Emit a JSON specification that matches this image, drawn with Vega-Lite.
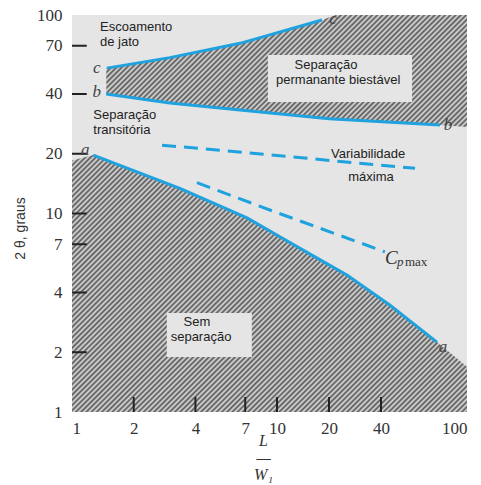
{
  "$schema": "https://vega.github.io/schema/vega-lite/v6.json",
  "width": 395,
  "height": 397,
  "autosize": {"type": "none"},
  "padding": {"left": 72, "top": 15, "right": 14, "bottom": 73},
  "background": "white",
  "config": {"view": {"fill": "#e5e5e5", "stroke": null}},
  "datasets": {
    "bottom": [
      {"x": 1, "y": 18.5}, {"x": 1.27, "y": 19.7}, {"x": 3.36, "y": 13.4}, {"x": 7.14, "y": 9.5},
      {"x": 10.4, "y": 7.63}, {"x": 16.2, "y": 6.12}, {"x": 25.4, "y": 4.9}, {"x": 43.9, "y": 3.46},
      {"x": 72.6, "y": 2.25}, {"x": 100, "y": 1.69}
    ],
    "top": [
      {"x": 1.47, "y": 40, "y2": 54}, {"x": 3, "y": 36, "y2": 61}, {"x": 6.6, "y": 33.2, "y2": 72},
      {"x": 18.2, "y": 30.3, "y2": 94.4}, {"x": 21.9, "y": 29.9, "y2": 100}, {"x": 75, "y": 27.9, "y2": 100},
      {"x": 100, "y": 27.3, "y2": 100}
    ],
    "boxes": [
      {"x": 9.03, "x2": 55.7, "y": 36.4, "y2": 62.9},
      {"x": 2.9, "x2": 7.54, "y": 1.89, "y2": 3.15}
    ],
    "curves": [
      {"curve": "a", "x": 1.27, "y": 19.7}, {"curve": "a", "x": 3.36, "y": 13.4}, {"curve": "a", "x": 7.14, "y": 9.5},
      {"curve": "a", "x": 10.4, "y": 7.63}, {"curve": "a", "x": 16.2, "y": 6.12}, {"curve": "a", "x": 25.4, "y": 4.9},
      {"curve": "a", "x": 43.9, "y": 3.46}, {"curve": "a", "x": 72.6, "y": 2.25},
      {"curve": "b", "x": 1.47, "y": 40}, {"curve": "b", "x": 3, "y": 36}, {"curve": "b", "x": 6.6, "y": 33.2},
      {"curve": "b", "x": 20, "y": 30}, {"curve": "b", "x": 75, "y": 27.9},
      {"curve": "c", "x": 1.48, "y": 54}, {"curve": "c", "x": 3, "y": 61}, {"curve": "c", "x": 6.6, "y": 72},
      {"curve": "c", "x": 18.2, "y": 94.4}
    ],
    "dashed": [
      {"curve": "var", "x": 2.75, "y": 22.1}, {"curve": "var", "x": 10, "y": 19.6},
      {"curve": "var", "x": 40, "y": 17.5}, {"curve": "var", "x": 57.5, "y": 16.9},
      {"curve": "cp", "x": 4.07, "y": 14.3}, {"curve": "cp", "x": 10, "y": 10.1},
      {"curve": "cp", "x": 40, "y": 6.52}, {"curve": "cp", "x": 41.7, "y": 6.4}
    ],
    "xticks": [{"x": 2}, {"x": 4}, {"x": 7}, {"x": 10}, {"x": 20}, {"x": 40}],
    "yticks": [{"y": 2}, {"y": 4}, {"y": 7}, {"y": 10}, {"y": 20}, {"y": 40}, {"y": 70}],
    "leftLabels": [
      {"x": 1.37, "y": 87, "t": "Escoamento"}, {"x": 1.37, "y": 73.1, "t": "de jato"},
      {"x": 1.27, "y": 31.3, "t": "Separação"}, {"x": 1.27, "y": 26.3, "t": "transitória"}
    ],
    "centerLabels": [
      {"x": 19.2, "y": 56.1, "t": "Separação"}, {"x": 22.6, "y": 47, "t": "permanante biestável"},
      {"x": 33.7, "y": 19.9, "t": "Variabilidade"}, {"x": 35, "y": 15.3, "t": "máxima"},
      {"x": 4.07, "y": 2.84, "t": "Sem"}, {"x": 4.26, "y": 2.39, "t": "separação"}
    ],
    "letters": [
      {"x": 1.32, "y": 54, "t": "c"}, {"x": 1.32, "y": 41, "t": "b"}, {"x": 1.16, "y": 20.9, "t": "a"},
      {"x": 21.1, "y": 96, "t": "c"}, {"x": 81.7, "y": 27.9, "t": "b"}, {"x": 77.4, "y": 2.13, "t": "a"}
    ],
    "cpBig": [{"x": 41.7, "y": 5.56, "t": "C"}],
    "cpSub": [{"x": 47.4, "y": 5.44, "t": "p"}],
    "cpMax": [{"x": 51.6, "y": 5.44, "t": "max"}]
  },
  "layer": [
    {
      "data": {"name": "bottom"},
      "mark": {"type": "area", "fill": {"gradient": "linear", "x1": 0, "y1": 0, "x2": 1.1597, "y2": 0.7545, "stops": [
        {"offset":0,"color":"#555"},{"offset":0.004,"color":"#ddd"},{"offset":0.008,"color":"#555"},{"offset":0.012,"color":"#ddd"},{"offset":0.016,"color":"#555"},{"offset":0.02,"color":"#ddd"},{"offset":0.024,"color":"#555"},{"offset":0.028,"color":"#ddd"},{"offset":0.032,"color":"#555"},{"offset":0.036,"color":"#ddd"},
        {"offset":0.04,"color":"#555"},{"offset":0.044,"color":"#ddd"},{"offset":0.048,"color":"#555"},{"offset":0.052,"color":"#ddd"},{"offset":0.056,"color":"#555"},{"offset":0.06,"color":"#ddd"},{"offset":0.064,"color":"#555"},{"offset":0.068,"color":"#ddd"},{"offset":0.072,"color":"#555"},{"offset":0.076,"color":"#ddd"},
        {"offset":0.08,"color":"#555"},{"offset":0.084,"color":"#ddd"},{"offset":0.088,"color":"#555"},{"offset":0.092,"color":"#ddd"},{"offset":0.096,"color":"#555"},{"offset":0.1,"color":"#ddd"},{"offset":0.104,"color":"#555"},{"offset":0.108,"color":"#ddd"},{"offset":0.112,"color":"#555"},{"offset":0.116,"color":"#ddd"},
        {"offset":0.12,"color":"#555"},{"offset":0.124,"color":"#ddd"},{"offset":0.128,"color":"#555"},{"offset":0.132,"color":"#ddd"},{"offset":0.136,"color":"#555"},{"offset":0.14,"color":"#ddd"},{"offset":0.144,"color":"#555"},{"offset":0.148,"color":"#ddd"},{"offset":0.152,"color":"#555"},{"offset":0.156,"color":"#ddd"},
        {"offset":0.16,"color":"#555"},{"offset":0.164,"color":"#ddd"},{"offset":0.168,"color":"#555"},{"offset":0.172,"color":"#ddd"},{"offset":0.176,"color":"#555"},{"offset":0.18,"color":"#ddd"},{"offset":0.184,"color":"#555"},{"offset":0.188,"color":"#ddd"},{"offset":0.192,"color":"#555"},{"offset":0.196,"color":"#ddd"},
        {"offset":0.2,"color":"#555"},{"offset":0.204,"color":"#ddd"},{"offset":0.208,"color":"#555"},{"offset":0.212,"color":"#ddd"},{"offset":0.216,"color":"#555"},{"offset":0.22,"color":"#ddd"},{"offset":0.224,"color":"#555"},{"offset":0.228,"color":"#ddd"},{"offset":0.232,"color":"#555"},{"offset":0.236,"color":"#ddd"},
        {"offset":0.24,"color":"#555"},{"offset":0.244,"color":"#ddd"},{"offset":0.248,"color":"#555"},{"offset":0.252,"color":"#ddd"},{"offset":0.256,"color":"#555"},{"offset":0.26,"color":"#ddd"},{"offset":0.264,"color":"#555"},{"offset":0.268,"color":"#ddd"},{"offset":0.272,"color":"#555"},{"offset":0.276,"color":"#ddd"},
        {"offset":0.28,"color":"#555"},{"offset":0.284,"color":"#ddd"},{"offset":0.288,"color":"#555"},{"offset":0.292,"color":"#ddd"},{"offset":0.296,"color":"#555"},{"offset":0.3,"color":"#ddd"},{"offset":0.304,"color":"#555"},{"offset":0.308,"color":"#ddd"},{"offset":0.312,"color":"#555"},{"offset":0.316,"color":"#ddd"},
        {"offset":0.32,"color":"#555"},{"offset":0.324,"color":"#ddd"},{"offset":0.328,"color":"#555"},{"offset":0.332,"color":"#ddd"},{"offset":0.336,"color":"#555"},{"offset":0.34,"color":"#ddd"},{"offset":0.344,"color":"#555"},{"offset":0.348,"color":"#ddd"},{"offset":0.352,"color":"#555"},{"offset":0.356,"color":"#ddd"},
        {"offset":0.36,"color":"#555"},{"offset":0.364,"color":"#ddd"},{"offset":0.368,"color":"#555"},{"offset":0.372,"color":"#ddd"},{"offset":0.376,"color":"#555"},{"offset":0.38,"color":"#ddd"},{"offset":0.384,"color":"#555"},{"offset":0.388,"color":"#ddd"},{"offset":0.392,"color":"#555"},{"offset":0.396,"color":"#ddd"},
        {"offset":0.4,"color":"#555"},{"offset":0.404,"color":"#ddd"},{"offset":0.408,"color":"#555"},{"offset":0.412,"color":"#ddd"},{"offset":0.416,"color":"#555"},{"offset":0.42,"color":"#ddd"},{"offset":0.424,"color":"#555"},{"offset":0.428,"color":"#ddd"},{"offset":0.432,"color":"#555"},{"offset":0.436,"color":"#ddd"},
        {"offset":0.44,"color":"#555"},{"offset":0.444,"color":"#ddd"},{"offset":0.448,"color":"#555"},{"offset":0.452,"color":"#ddd"},{"offset":0.456,"color":"#555"},{"offset":0.46,"color":"#ddd"},{"offset":0.464,"color":"#555"},{"offset":0.468,"color":"#ddd"},{"offset":0.472,"color":"#555"},{"offset":0.476,"color":"#ddd"},
        {"offset":0.48,"color":"#555"},{"offset":0.484,"color":"#ddd"},{"offset":0.488,"color":"#555"},{"offset":0.492,"color":"#ddd"},{"offset":0.496,"color":"#555"},{"offset":0.5,"color":"#ddd"},{"offset":0.504,"color":"#555"},{"offset":0.508,"color":"#ddd"},{"offset":0.512,"color":"#555"},{"offset":0.516,"color":"#ddd"},
        {"offset":0.52,"color":"#555"},{"offset":0.524,"color":"#ddd"},{"offset":0.528,"color":"#555"},{"offset":0.532,"color":"#ddd"},{"offset":0.536,"color":"#555"},{"offset":0.54,"color":"#ddd"},{"offset":0.544,"color":"#555"},{"offset":0.548,"color":"#ddd"},{"offset":0.552,"color":"#555"},{"offset":0.556,"color":"#ddd"},
        {"offset":0.56,"color":"#555"},{"offset":0.564,"color":"#ddd"},{"offset":0.568,"color":"#555"},{"offset":0.572,"color":"#ddd"},{"offset":0.576,"color":"#555"},{"offset":0.58,"color":"#ddd"},{"offset":0.584,"color":"#555"},{"offset":0.588,"color":"#ddd"},{"offset":0.592,"color":"#555"},{"offset":0.596,"color":"#ddd"},
        {"offset":0.6,"color":"#555"},{"offset":0.604,"color":"#ddd"},{"offset":0.608,"color":"#555"},{"offset":0.612,"color":"#ddd"},{"offset":0.616,"color":"#555"},{"offset":0.62,"color":"#ddd"},{"offset":0.624,"color":"#555"},{"offset":0.628,"color":"#ddd"},{"offset":0.632,"color":"#555"},{"offset":0.636,"color":"#ddd"},
        {"offset":0.64,"color":"#555"},{"offset":0.644,"color":"#ddd"},{"offset":0.648,"color":"#555"},{"offset":0.652,"color":"#ddd"},{"offset":0.656,"color":"#555"},{"offset":0.66,"color":"#ddd"},{"offset":0.664,"color":"#555"},{"offset":0.668,"color":"#ddd"},{"offset":0.672,"color":"#555"},{"offset":0.676,"color":"#ddd"},
        {"offset":0.68,"color":"#555"},{"offset":0.684,"color":"#ddd"},{"offset":0.688,"color":"#555"},{"offset":0.692,"color":"#ddd"},{"offset":0.696,"color":"#555"},{"offset":0.7,"color":"#ddd"},{"offset":0.704,"color":"#555"},{"offset":0.708,"color":"#ddd"},{"offset":0.712,"color":"#555"},{"offset":0.716,"color":"#ddd"},
        {"offset":0.72,"color":"#555"},{"offset":0.724,"color":"#ddd"},{"offset":0.728,"color":"#555"},{"offset":0.732,"color":"#ddd"},{"offset":0.736,"color":"#555"},{"offset":0.74,"color":"#ddd"},{"offset":0.744,"color":"#555"},{"offset":0.748,"color":"#ddd"},{"offset":0.752,"color":"#555"},{"offset":0.756,"color":"#ddd"},
        {"offset":0.76,"color":"#555"},{"offset":0.764,"color":"#ddd"},{"offset":0.768,"color":"#555"},{"offset":0.772,"color":"#ddd"},{"offset":0.776,"color":"#555"},{"offset":0.78,"color":"#ddd"},{"offset":0.784,"color":"#555"},{"offset":0.788,"color":"#ddd"},{"offset":0.792,"color":"#555"},{"offset":0.796,"color":"#ddd"},
        {"offset":0.8,"color":"#555"},{"offset":0.804,"color":"#ddd"},{"offset":0.808,"color":"#555"},{"offset":0.812,"color":"#ddd"},{"offset":0.816,"color":"#555"},{"offset":0.82,"color":"#ddd"},{"offset":0.824,"color":"#555"},{"offset":0.828,"color":"#ddd"},{"offset":0.832,"color":"#555"},{"offset":0.836,"color":"#ddd"},
        {"offset":0.84,"color":"#555"},{"offset":0.844,"color":"#ddd"},{"offset":0.848,"color":"#555"},{"offset":0.852,"color":"#ddd"},{"offset":0.856,"color":"#555"},{"offset":0.86,"color":"#ddd"},{"offset":0.864,"color":"#555"},{"offset":0.868,"color":"#ddd"},{"offset":0.872,"color":"#555"},{"offset":0.876,"color":"#ddd"},
        {"offset":0.88,"color":"#555"},{"offset":0.884,"color":"#ddd"},{"offset":0.888,"color":"#555"},{"offset":0.892,"color":"#ddd"},{"offset":0.896,"color":"#555"},{"offset":0.9,"color":"#ddd"},{"offset":0.904,"color":"#555"},{"offset":0.908,"color":"#ddd"},{"offset":0.912,"color":"#555"},{"offset":0.916,"color":"#ddd"},
        {"offset":0.92,"color":"#555"},{"offset":0.924,"color":"#ddd"},{"offset":0.928,"color":"#555"},{"offset":0.932,"color":"#ddd"},{"offset":0.936,"color":"#555"},{"offset":0.94,"color":"#ddd"},{"offset":0.944,"color":"#555"},{"offset":0.948,"color":"#ddd"},{"offset":0.952,"color":"#555"},{"offset":0.956,"color":"#ddd"},
        {"offset":0.96,"color":"#555"},{"offset":0.964,"color":"#ddd"},{"offset":0.968,"color":"#555"},{"offset":0.972,"color":"#ddd"},{"offset":0.976,"color":"#555"},{"offset":0.98,"color":"#ddd"},{"offset":0.984,"color":"#555"},{"offset":0.988,"color":"#ddd"},{"offset":0.992,"color":"#555"},{"offset":0.996,"color":"#ddd"},
        {"offset":1,"color":"#555"}]}},
      "encoding": {
        "x": {"field": "x", "type": "quantitative", "scale": {"type": "log", "domain": [1, 10, 40, 100], "range": [0, 205, 309, 395], "nice": false},
          "axis": {"values": [1, 2, 4, 7, 10, 20, 40, 100], "format": "d", "domain": false, "grid": false, "ticks": false, "zindex": 1,
            "labelPadding": 8, "labelFont": "Liberation Serif", "labelFontSize": 17, "labelColor": "#333333",
            "title": ["L", "—", "W₁"], "titleFont": "Liberation Serif", "titleFontStyle": "italic", "titleFontWeight": "normal",
            "titleFontSize": 16, "titleColor": "#333333", "titleLineHeight": 17,
            "titleX": 191, "titleY": 33, "titleAlign": "center", "titleBaseline": "alphabetic"}},
        "y": {"field": "y", "type": "quantitative", "scale": {"type": "log", "domain": [1, 100], "nice": false},
          "axis": {"values": [1, 2, 4, 7, 10, 20, 40, 70, 100], "format": "d", "domain": false, "grid": false, "ticks": false, "zindex": 1,
            "labelPadding": 10, "labelFont": "Liberation Serif", "labelFontSize": 17, "labelColor": "#333333",
            "title": "2 θ, graus", "titleFont": "Liberation Sans", "titleFontWeight": "normal", "titleFontSize": 14,
            "titleColor": "#333333", "titleX": -52, "titleY": 213, "titleAlign": "center", "titleBaseline": "middle", "titleAngle": -90}},
        "y2": {"datum": 1}
      }
    },
    {
      "data": {"name": "top"},
      "mark": {"type": "area", "fill": {"gradient": "linear", "x1": 0, "y1": 0, "x2": 1.6489, "y2": 0.5115, "stops": [
        {"offset":0,"color":"#555"},{"offset":0.004,"color":"#ddd"},{"offset":0.008,"color":"#555"},{"offset":0.012,"color":"#ddd"},{"offset":0.016,"color":"#555"},{"offset":0.02,"color":"#ddd"},{"offset":0.024,"color":"#555"},{"offset":0.028,"color":"#ddd"},{"offset":0.032,"color":"#555"},{"offset":0.036,"color":"#ddd"},
        {"offset":0.04,"color":"#555"},{"offset":0.044,"color":"#ddd"},{"offset":0.048,"color":"#555"},{"offset":0.052,"color":"#ddd"},{"offset":0.056,"color":"#555"},{"offset":0.06,"color":"#ddd"},{"offset":0.064,"color":"#555"},{"offset":0.068,"color":"#ddd"},{"offset":0.072,"color":"#555"},{"offset":0.076,"color":"#ddd"},
        {"offset":0.08,"color":"#555"},{"offset":0.084,"color":"#ddd"},{"offset":0.088,"color":"#555"},{"offset":0.092,"color":"#ddd"},{"offset":0.096,"color":"#555"},{"offset":0.1,"color":"#ddd"},{"offset":0.104,"color":"#555"},{"offset":0.108,"color":"#ddd"},{"offset":0.112,"color":"#555"},{"offset":0.116,"color":"#ddd"},
        {"offset":0.12,"color":"#555"},{"offset":0.124,"color":"#ddd"},{"offset":0.128,"color":"#555"},{"offset":0.132,"color":"#ddd"},{"offset":0.136,"color":"#555"},{"offset":0.14,"color":"#ddd"},{"offset":0.144,"color":"#555"},{"offset":0.148,"color":"#ddd"},{"offset":0.152,"color":"#555"},{"offset":0.156,"color":"#ddd"},
        {"offset":0.16,"color":"#555"},{"offset":0.164,"color":"#ddd"},{"offset":0.168,"color":"#555"},{"offset":0.172,"color":"#ddd"},{"offset":0.176,"color":"#555"},{"offset":0.18,"color":"#ddd"},{"offset":0.184,"color":"#555"},{"offset":0.188,"color":"#ddd"},{"offset":0.192,"color":"#555"},{"offset":0.196,"color":"#ddd"},
        {"offset":0.2,"color":"#555"},{"offset":0.204,"color":"#ddd"},{"offset":0.208,"color":"#555"},{"offset":0.212,"color":"#ddd"},{"offset":0.216,"color":"#555"},{"offset":0.22,"color":"#ddd"},{"offset":0.224,"color":"#555"},{"offset":0.228,"color":"#ddd"},{"offset":0.232,"color":"#555"},{"offset":0.236,"color":"#ddd"},
        {"offset":0.24,"color":"#555"},{"offset":0.244,"color":"#ddd"},{"offset":0.248,"color":"#555"},{"offset":0.252,"color":"#ddd"},{"offset":0.256,"color":"#555"},{"offset":0.26,"color":"#ddd"},{"offset":0.264,"color":"#555"},{"offset":0.268,"color":"#ddd"},{"offset":0.272,"color":"#555"},{"offset":0.276,"color":"#ddd"},
        {"offset":0.28,"color":"#555"},{"offset":0.284,"color":"#ddd"},{"offset":0.288,"color":"#555"},{"offset":0.292,"color":"#ddd"},{"offset":0.296,"color":"#555"},{"offset":0.3,"color":"#ddd"},{"offset":0.304,"color":"#555"},{"offset":0.308,"color":"#ddd"},{"offset":0.312,"color":"#555"},{"offset":0.316,"color":"#ddd"},
        {"offset":0.32,"color":"#555"},{"offset":0.324,"color":"#ddd"},{"offset":0.328,"color":"#555"},{"offset":0.332,"color":"#ddd"},{"offset":0.336,"color":"#555"},{"offset":0.34,"color":"#ddd"},{"offset":0.344,"color":"#555"},{"offset":0.348,"color":"#ddd"},{"offset":0.352,"color":"#555"},{"offset":0.356,"color":"#ddd"},
        {"offset":0.36,"color":"#555"},{"offset":0.364,"color":"#ddd"},{"offset":0.368,"color":"#555"},{"offset":0.372,"color":"#ddd"},{"offset":0.376,"color":"#555"},{"offset":0.38,"color":"#ddd"},{"offset":0.384,"color":"#555"},{"offset":0.388,"color":"#ddd"},{"offset":0.392,"color":"#555"},{"offset":0.396,"color":"#ddd"},
        {"offset":0.4,"color":"#555"},{"offset":0.404,"color":"#ddd"},{"offset":0.408,"color":"#555"},{"offset":0.412,"color":"#ddd"},{"offset":0.416,"color":"#555"},{"offset":0.42,"color":"#ddd"},{"offset":0.424,"color":"#555"},{"offset":0.428,"color":"#ddd"},{"offset":0.432,"color":"#555"},{"offset":0.436,"color":"#ddd"},
        {"offset":0.44,"color":"#555"},{"offset":0.444,"color":"#ddd"},{"offset":0.448,"color":"#555"},{"offset":0.452,"color":"#ddd"},{"offset":0.456,"color":"#555"},{"offset":0.46,"color":"#ddd"},{"offset":0.464,"color":"#555"},{"offset":0.468,"color":"#ddd"},{"offset":0.472,"color":"#555"},{"offset":0.476,"color":"#ddd"},
        {"offset":0.48,"color":"#555"},{"offset":0.484,"color":"#ddd"},{"offset":0.488,"color":"#555"},{"offset":0.492,"color":"#ddd"},{"offset":0.496,"color":"#555"},{"offset":0.5,"color":"#ddd"},{"offset":0.504,"color":"#555"},{"offset":0.508,"color":"#ddd"},{"offset":0.512,"color":"#555"},{"offset":0.516,"color":"#ddd"},
        {"offset":0.52,"color":"#555"},{"offset":0.524,"color":"#ddd"},{"offset":0.528,"color":"#555"},{"offset":0.532,"color":"#ddd"},{"offset":0.536,"color":"#555"},{"offset":0.54,"color":"#ddd"},{"offset":0.544,"color":"#555"},{"offset":0.548,"color":"#ddd"},{"offset":0.552,"color":"#555"},{"offset":0.556,"color":"#ddd"},
        {"offset":0.56,"color":"#555"},{"offset":0.564,"color":"#ddd"},{"offset":0.568,"color":"#555"},{"offset":0.572,"color":"#ddd"},{"offset":0.576,"color":"#555"},{"offset":0.58,"color":"#ddd"},{"offset":0.584,"color":"#555"},{"offset":0.588,"color":"#ddd"},{"offset":0.592,"color":"#555"},{"offset":0.596,"color":"#ddd"},
        {"offset":0.6,"color":"#555"},{"offset":0.604,"color":"#ddd"},{"offset":0.608,"color":"#555"},{"offset":0.612,"color":"#ddd"},{"offset":0.616,"color":"#555"},{"offset":0.62,"color":"#ddd"},{"offset":0.624,"color":"#555"},{"offset":0.628,"color":"#ddd"},{"offset":0.632,"color":"#555"},{"offset":0.636,"color":"#ddd"},
        {"offset":0.64,"color":"#555"},{"offset":0.644,"color":"#ddd"},{"offset":0.648,"color":"#555"},{"offset":0.652,"color":"#ddd"},{"offset":0.656,"color":"#555"},{"offset":0.66,"color":"#ddd"},{"offset":0.664,"color":"#555"},{"offset":0.668,"color":"#ddd"},{"offset":0.672,"color":"#555"},{"offset":0.676,"color":"#ddd"},
        {"offset":0.68,"color":"#555"},{"offset":0.684,"color":"#ddd"},{"offset":0.688,"color":"#555"},{"offset":0.692,"color":"#ddd"},{"offset":0.696,"color":"#555"},{"offset":0.7,"color":"#ddd"},{"offset":0.704,"color":"#555"},{"offset":0.708,"color":"#ddd"},{"offset":0.712,"color":"#555"},{"offset":0.716,"color":"#ddd"},
        {"offset":0.72,"color":"#555"},{"offset":0.724,"color":"#ddd"},{"offset":0.728,"color":"#555"},{"offset":0.732,"color":"#ddd"},{"offset":0.736,"color":"#555"},{"offset":0.74,"color":"#ddd"},{"offset":0.744,"color":"#555"},{"offset":0.748,"color":"#ddd"},{"offset":0.752,"color":"#555"},{"offset":0.756,"color":"#ddd"},
        {"offset":0.76,"color":"#555"},{"offset":0.764,"color":"#ddd"},{"offset":0.768,"color":"#555"},{"offset":0.772,"color":"#ddd"},{"offset":0.776,"color":"#555"},{"offset":0.78,"color":"#ddd"},{"offset":0.784,"color":"#555"},{"offset":0.788,"color":"#ddd"},{"offset":0.792,"color":"#555"},{"offset":0.796,"color":"#ddd"},
        {"offset":0.8,"color":"#555"},{"offset":0.804,"color":"#ddd"},{"offset":0.808,"color":"#555"},{"offset":0.812,"color":"#ddd"},{"offset":0.816,"color":"#555"},{"offset":0.82,"color":"#ddd"},{"offset":0.824,"color":"#555"},{"offset":0.828,"color":"#ddd"},{"offset":0.832,"color":"#555"},{"offset":0.836,"color":"#ddd"},
        {"offset":0.84,"color":"#555"},{"offset":0.844,"color":"#ddd"},{"offset":0.848,"color":"#555"},{"offset":0.852,"color":"#ddd"},{"offset":0.856,"color":"#555"},{"offset":0.86,"color":"#ddd"},{"offset":0.864,"color":"#555"},{"offset":0.868,"color":"#ddd"},{"offset":0.872,"color":"#555"},{"offset":0.876,"color":"#ddd"},
        {"offset":0.88,"color":"#555"},{"offset":0.884,"color":"#ddd"},{"offset":0.888,"color":"#555"},{"offset":0.892,"color":"#ddd"},{"offset":0.896,"color":"#555"},{"offset":0.9,"color":"#ddd"},{"offset":0.904,"color":"#555"},{"offset":0.908,"color":"#ddd"},{"offset":0.912,"color":"#555"},{"offset":0.916,"color":"#ddd"},
        {"offset":0.92,"color":"#555"},{"offset":0.924,"color":"#ddd"},{"offset":0.928,"color":"#555"},{"offset":0.932,"color":"#ddd"},{"offset":0.936,"color":"#555"},{"offset":0.94,"color":"#ddd"},{"offset":0.944,"color":"#555"},{"offset":0.948,"color":"#ddd"},{"offset":0.952,"color":"#555"},{"offset":0.956,"color":"#ddd"},
        {"offset":0.96,"color":"#555"},{"offset":0.964,"color":"#ddd"},{"offset":0.968,"color":"#555"},{"offset":0.972,"color":"#ddd"},{"offset":0.976,"color":"#555"},{"offset":0.98,"color":"#ddd"},{"offset":0.984,"color":"#555"},{"offset":0.988,"color":"#ddd"},{"offset":0.992,"color":"#555"},{"offset":0.996,"color":"#ddd"},
        {"offset":1,"color":"#555"}]}},
      "encoding": {
        "x": {"field": "x", "type": "quantitative"},
        "y": {"field": "y", "type": "quantitative"},
        "y2": {"field": "y2"}
      }
    },
    {
      "data": {"name": "boxes"},
      "mark": {"type": "rect", "color": "#e5e5e5"},
      "encoding": {
        "x": {"field": "x", "type": "quantitative"},
        "x2": {"field": "x2"},
        "y": {"field": "y", "type": "quantitative"},
        "y2": {"field": "y2"}
      }
    },
    {
      "data": {"name": "xticks"},
      "mark": {"type": "rule", "color": "#222222", "strokeWidth": 2},
      "encoding": {
        "x": {"field": "x", "type": "quantitative"},
        "y": {"datum": 1},
        "y2": {"datum": 1.19}
      }
    },
    {
      "data": {"name": "yticks"},
      "mark": {"type": "rule", "color": "#222222", "strokeWidth": 2},
      "encoding": {
        "y": {"field": "y", "type": "quantitative"},
        "x": {"datum": 1},
        "x2": {"datum": 1.18}
      }
    },
    {
      "data": {"name": "curves"},
      "mark": {"type": "line", "color": "#1fa2de", "strokeWidth": 3},
      "encoding": {
        "x": {"field": "x", "type": "quantitative"},
        "y": {"field": "y", "type": "quantitative"},
        "detail": {"field": "curve"}
      }
    },
    {
      "data": {"name": "dashed"},
      "mark": {"type": "line", "color": "#1fa2de", "strokeWidth": 3, "strokeDash": [14, 8]},
      "encoding": {
        "x": {"field": "x", "type": "quantitative"},
        "y": {"field": "y", "type": "quantitative"},
        "detail": {"field": "curve"}
      }
    },
    {
      "data": {"name": "leftLabels"},
      "mark": {"type": "text", "align": "left", "baseline": "middle", "font": "Liberation Sans", "fontSize": 13, "color": "#222222"},
      "encoding": {
        "x": {"field": "x", "type": "quantitative"},
        "y": {"field": "y", "type": "quantitative"},
        "text": {"field": "t"}
      }
    },
    {
      "data": {"name": "centerLabels"},
      "mark": {"type": "text", "align": "center", "baseline": "middle", "font": "Liberation Sans", "fontSize": 13, "color": "#222222"},
      "encoding": {
        "x": {"field": "x", "type": "quantitative"},
        "y": {"field": "y", "type": "quantitative"},
        "text": {"field": "t"}
      }
    },
    {
      "data": {"name": "letters"},
      "mark": {"type": "text", "align": "center", "baseline": "middle", "font": "Liberation Serif", "fontStyle": "italic", "fontSize": 17, "color": "#444444"},
      "encoding": {
        "x": {"field": "x", "type": "quantitative"},
        "y": {"field": "y", "type": "quantitative"},
        "text": {"field": "t"}
      }
    },
    {
      "data": {"name": "cpBig"},
      "mark": {"type": "text", "align": "left", "baseline": "alphabetic", "font": "Liberation Serif", "fontStyle": "italic", "fontSize": 19, "color": "#333333"},
      "encoding": {
        "x": {"field": "x", "type": "quantitative"},
        "y": {"field": "y", "type": "quantitative"},
        "text": {"field": "t"}
      }
    },
    {
      "data": {"name": "cpSub"},
      "mark": {"type": "text", "align": "left", "baseline": "alphabetic", "font": "Liberation Serif", "fontStyle": "italic", "fontSize": 13, "color": "#333333"},
      "encoding": {
        "x": {"field": "x", "type": "quantitative"},
        "y": {"field": "y", "type": "quantitative"},
        "text": {"field": "t"}
      }
    },
    {
      "data": {"name": "cpMax"},
      "mark": {"type": "text", "align": "left", "baseline": "alphabetic", "font": "Liberation Serif", "fontSize": 13, "color": "#333333"},
      "encoding": {
        "x": {"field": "x", "type": "quantitative"},
        "y": {"field": "y", "type": "quantitative"},
        "text": {"field": "t"}
      }
    }
  ]
}
